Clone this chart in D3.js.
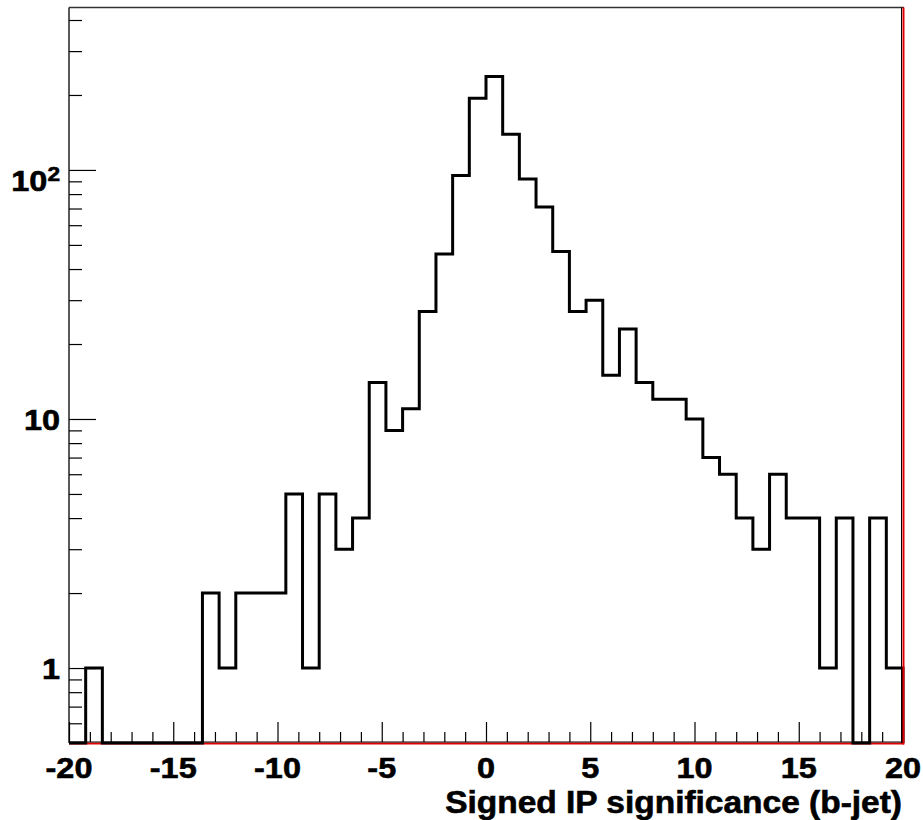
<!DOCTYPE html>
<html>
<head>
<meta charset="utf-8">
<script src="https://cdn.jsdelivr.net/npm/d3@7/dist/d3.min.js"></script>
<style>
  html, body { margin: 0; padding: 0; background: #fff; }
  svg { display: block; }
  text { font-family: "Liberation Sans", Arial, Helvetica, sans-serif; font-weight: bold; fill: #000; stroke: #000; stroke-width: 0.6px; }
</style>
</head>
<body>
<svg id="chart" width="923" height="820"></svg>
<script>
// Histogram definition: 50 bins over [-20, 20]
const xRange = [-20, 20];
const nBins = 50;
const counts = [
  0, 1, 0, 0, 0, 0, 0, 0, 2, 1,
  2, 2, 2, 5, 1, 5, 3, 4, 14, 9,
  11, 27, 46, 95, 194, 237, 139, 92, 71, 47,
  27, 30, 15, 23, 14, 12, 12, 10, 7, 6,
  4, 3, 6, 4, 4, 1, 4, 0, 4, 1
];
const yRange = [0.5, 449];

// Axis ticks
const xMajorTicks = [-20, -15, -10, -5, 0, 5, 10, 15, 20];
const xMinorTicks = d3.range(-20, 21, 1).filter(v => v % 5 !== 0);
const yMajorTicks = [1, 10, 100];
const yMinorTicks = [0.6, 0.7, 0.8, 0.9, 2, 3, 4, 5, 6, 7, 8, 9, 20, 30, 40, 50, 60, 70, 80, 90, 200, 300, 400];
const yTickLabels = [
  { v: 1, base: "1", exp: null },
  { v: 10, base: "10", exp: null },
  { v: 100, base: "10", exp: "2" }
];
const xTitle = "Signed IP significance (b-jet)";

const frame = { left: 69, right: 903, top: 7.5, bottom: 743 };

const svg = d3.select("#chart");
const x = d3.scaleLinear().domain(xRange).range([frame.left, frame.right]);
const y = d3.scaleLog().domain(yRange).range([frame.bottom, frame.top]);

const binWidth = (xRange[1] - xRange[0]) / nBins;
const edges = d3.range(nBins + 1).map(i => xRange[0] + i * binWidth);

// Frame background
svg.append("rect")
  .attr("x", frame.left).attr("y", frame.top)
  .attr("width", frame.right - frame.left).attr("height", frame.bottom - frame.top)
  .attr("fill", "#fff");

// Red frame edge (bottom)
svg.append("line")
  .attr("x1", frame.left).attr("x2", frame.right + 1)
  .attr("y1", frame.bottom + 0.5).attr("y2", frame.bottom + 0.5)
  .attr("stroke", "#e00000").attr("stroke-width", 2);

// Axis lines (black)
svg.append("line")
  .attr("x1", frame.left).attr("x2", frame.right)
  .attr("y1", frame.bottom - 1).attr("y2", frame.bottom - 1)
  .attr("stroke", "#000").attr("stroke-width", 1);
svg.append("line")
  .attr("x1", frame.left).attr("x2", frame.right + 1)
  .attr("y1", frame.top).attr("y2", frame.top)
  .attr("stroke", "#333").attr("stroke-width", 1.5);
svg.append("line")
  .attr("x1", frame.left).attr("x2", frame.left)
  .attr("y1", frame.top).attr("y2", frame.bottom)
  .attr("stroke", "#222").attr("stroke-width", 1.5);
svg.append("line")
  .attr("x1", frame.right - 1.5).attr("x2", frame.right - 1.5)
  .attr("y1", frame.top).attr("y2", frame.bottom)
  .attr("stroke", "#000").attr("stroke-width", 1);

// Tick marks via d3 axes (pointing inward)
function styleAxis(g) {
  g.select(".domain").remove();
  g.selectAll(".tick line").attr("stroke", "#000").attr("stroke-width", 1.2);
  g.selectAll(".tick text").remove();
}
svg.append("g").attr("transform", `translate(0,${frame.bottom - 1})`)
  .call(d3.axisBottom(x).tickValues(xMajorTicks).tickSizeInner(-20).tickSizeOuter(0))
  .call(styleAxis);
svg.append("g").attr("transform", `translate(0,${frame.bottom - 1})`)
  .call(d3.axisBottom(x).tickValues(xMinorTicks).tickSizeInner(-10).tickSizeOuter(0))
  .call(styleAxis);
svg.append("g").attr("transform", `translate(${frame.left},0)`)
  .call(d3.axisLeft(y).tickValues(yMajorTicks).tickSizeInner(-27).tickSizeOuter(0))
  .call(styleAxis);
svg.append("g").attr("transform", `translate(${frame.left},0)`)
  .call(d3.axisLeft(y).tickValues(yMinorTicks).tickSizeInner(-13).tickSizeOuter(0))
  .call(styleAxis);

// Histogram outline; empty bins sit on the lower edge of the frame
const yc = v => y(Math.max(v, yRange[0]));
const pts = [[xRange[0], yRange[0]]];
counts.forEach((c, i) => { pts.push([edges[i], c]); pts.push([edges[i + 1], c]); });
pts.push([xRange[1], yRange[0]]);
svg.append("path")
  .datum(pts)
  .attr("d", d3.line().x(d => x(d[0])).y(d => yc(d[1])))
  .attr("fill", "none")
  .attr("stroke", "#000")
  .attr("stroke-width", 3)
  .attr("stroke-linejoin", "miter")
  .attr("stroke-linecap", "butt");

// Red right edge on top
svg.append("line")
  .attr("x1", frame.right + 0.5).attr("x2", frame.right + 0.5)
  .attr("y1", frame.top).attr("y2", frame.bottom + 1.5)
  .attr("stroke", "#e00000").attr("stroke-width", 2);

// X tick labels
const sx = 1.08;
svg.append("g").selectAll("text")
  .data(xMajorTicks)
  .join("text")
  .attr("transform", d => `translate(${x(d)},778) scale(${sx},1)`)
  .attr("text-anchor", "middle")
  .attr("font-size", 30)
  .text(d => d);

// Y tick labels
const yl = svg.append("g").selectAll("text")
  .data(yTickLabels)
  .join("text")
  .attr("transform", d => `translate(60,${y(d.v) + (d.exp ? 21 : 11)}) scale(${sx},1)`)
  .attr("text-anchor", "end")
  .attr("font-size", 30);
yl.append("tspan").text(d => d.base);
yl.filter(d => d.exp).append("tspan")
  .attr("font-size", 21)
  .attr("dy", -10)
  .text(d => d.exp);

// X axis title
svg.append("text")
  .attr("transform", `translate(902,813) scale(${sx},1)`)
  .attr("text-anchor", "end")
  .attr("font-size", 31)
  .text(xTitle);
</script>
</body>
</html>
